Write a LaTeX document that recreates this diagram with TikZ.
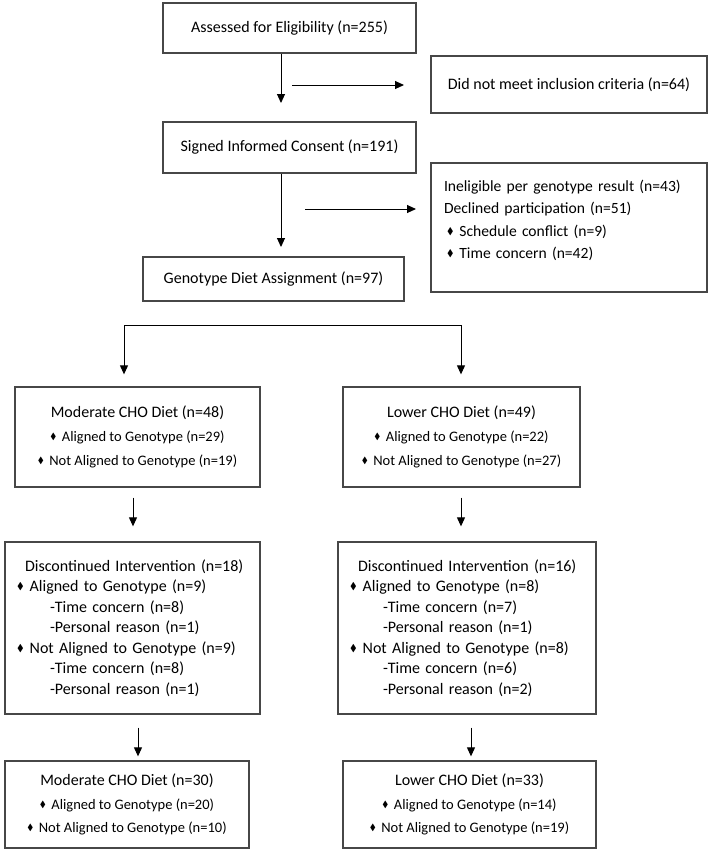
\documentclass[tikz,border=0pt]{standalone}
\usepackage{fontspec}
\setmainfont{Carlito}
\usepackage{amssymb}
\usepackage{graphicx}
\usetikzlibrary{arrows.meta, positioning}
\newcommand{\dmd}{\raisebox{0.12em}{\scalebox{0.62}{$\blacklozenge$}}\hspace{0.38em}}
\newcommand{\smallline}{\fontsize{14.5}{24}\selectfont}

\begin{document}
\begin{tikzpicture}[
    x=1pt, y=-1pt,
    box/.style={draw=black!72, line width=1.3pt, inner sep=0pt, font=\fontsize{16}{20.5}\selectfont, align=center},
    listbox/.style={box, align=left, inner xsep=12pt},
    arr/.style={line width=1pt, -{Triangle[length=9pt, width=8pt]}}
]
    \useasboundingbox (0,0) rectangle (709,852);

    % Enrollment
    \node[box, minimum width=253pt, minimum height=50pt] (assess) at (289.5,28) {Assessed for Eligibility (n=255)};
    \node[box, minimum width=276pt, minimum height=57pt] (excl) at (569,84.5) {Did not meet inclusion criteria (n=64)};
    \node[box, minimum width=253pt, minimum height=51pt] (consent) at (289.5,147.5) {Signed Informed Consent (n=191)};
    \node[listbox, font=\fontsize{15.6}{22.5}\selectfont, text width=250pt, inner xsep=13pt, minimum height=129pt] (inel) at (569,227.5)
        {Ineligible per genotype result (n=43)\\
         Declined participation (n=51)\\
         \hspace*{3pt}\dmd Schedule conflict (n=9)\\
         \hspace*{3pt}\dmd Time concern (n=42)\\[-6pt]\mbox{}};
    \node[box, minimum width=261pt, minimum height=44pt] (geno) at (273.5,279) {Genotype Diet Assignment (n=97)};

    % Allocation
    \node[box, font=\fontsize{16}{24}\selectfont, minimum width=245pt, minimum height=100pt] (mod) at (137.5,437)
        {Moderate CHO Diet (n=48)\\
         {\smallline\dmd Aligned to Genotype (n=29)}\\
         {\smallline\dmd Not Aligned to Genotype (n=19)}};
    \node[box, font=\fontsize{16}{24}\selectfont, minimum width=237pt, minimum height=100pt] (low) at (461.5,437)
        {Lower CHO Diet (n=49)\\
         {\smallline\dmd Aligned to Genotype (n=22)}\\
         {\smallline\dmd Not Aligned to Genotype (n=27)}};

    % Follow-up
    \node[listbox, text width=231pt, minimum height=172pt] (disL) at (132.5,628)
        {\hspace*{8pt}Discontinued Intervention (n=18)\\
         \dmd Aligned to Genotype (n=9)\\
         \hspace*{33pt}-Time concern (n=8)\\
         \hspace*{33pt}-Personal reason (n=1)\\
         \dmd Not Aligned to Genotype (n=9)\\
         \hspace*{33pt}-Time concern (n=8)\\
         \hspace*{33pt}-Personal reason (n=1)};
    \node[listbox, text width=234pt, minimum height=172pt] (disR) at (467,628)
        {\hspace*{8pt}Discontinued Intervention (n=16)\\
         \dmd Aligned to Genotype (n=8)\\
         \hspace*{33pt}-Time concern (n=7)\\
         \hspace*{33pt}-Personal reason (n=1)\\
         \dmd Not Aligned to Genotype (n=8)\\
         \hspace*{33pt}-Time concern (n=6)\\
         \hspace*{33pt}-Personal reason (n=2)};

    % Analysis
    \node[box, font=\fontsize{16}{23.5}\selectfont, minimum width=244pt, minimum height=87pt] (finL) at (127,804.5)
        {Moderate CHO Diet (n=30)\\
         {\smallline\dmd Aligned to Genotype (n=20)}\\
         {\smallline\dmd Not Aligned to Genotype (n=10)}};
    \node[box, font=\fontsize{16}{23.5}\selectfont, minimum width=253pt, minimum height=87pt] (finR) at (469.5,804.5)
        {Lower CHO Diet (n=33)\\
         {\smallline\dmd Aligned to Genotype (n=14)}\\
         {\smallline\dmd Not Aligned to Genotype (n=19)}};

    % Free arrow ends
    \coordinate (down1) at (281,103);
    \coordinate (side1) at (292,85);
    \coordinate (tip1) at (404,85);
    \coordinate (down2) at (281,247);
    \coordinate (side2) at (305,209);
    \coordinate (tip2) at (416,209);
    \coordinate (splitL) at (124,325);
    \coordinate (splitR) at (461,325);
    \coordinate (midL) at (133,0);
    \coordinate (midR) at (461,0);
    \coordinate (lowL) at (138,0);
    \coordinate (lowR) at (471,0);

    % Connections (yshift acts on the page, so + is upwards)
    \draw[arr] (down1 |- assess.south) -- (down1);
    \draw[arr] (side1) -- (tip1);
    \draw[arr] (down2 |- consent.south) -- (down2);
    \draw[arr] (side2) -- (tip2);
    \draw[arr] (splitL) -- (splitR) -- ([yshift=12pt]splitR |- low.north);
    \draw[arr] (splitL) -- ([yshift=12pt]splitL |- mod.north);
    \draw[arr] ([yshift=-10pt]midL |- mod.south) -- ([yshift=15pt]midL |- disL.north);
    \draw[arr] ([yshift=-10pt]midR |- low.south) -- ([yshift=15pt]midR |- disR.north);
    \draw[arr] ([yshift=-13pt]lowL |- disL.south) -- ([yshift=4pt]lowL |- finL.north);
    \draw[arr] ([yshift=-13pt]lowR |- disR.south) -- ([yshift=4pt]lowR |- finR.north);
\end{tikzpicture}
\end{document}
